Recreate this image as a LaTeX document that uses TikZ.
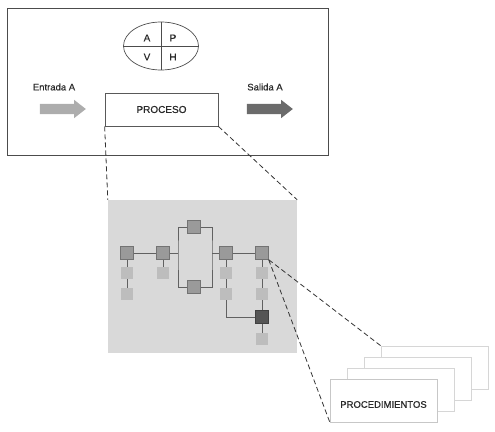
\documentclass[tikz,border=0pt]{standalone}
\usepackage{fontspec}
\setmainfont{Liberation Sans}[FakeBold=0.6]
\usepackage{xcolor}
\usetikzlibrary{shapes.geometric,shapes.arrows}
\definecolor{ink}{HTML}{2A2A2A}
\definecolor{sqmid}{HTML}{9A9A9A}
\definecolor{sqlight}{HTML}{BDBDBD}
\definecolor{sqdark}{HTML}{555555}
\definecolor{panelgray}{HTML}{D9D9D9}

\begin{document}
\begin{tikzpicture}[x=1pt, y=-1pt,
  font=\fontsize{9.5}{11}\selectfont, text=ink,
  frame/.style={draw=black!70, line width=0.7pt, inner sep=0pt},
  procbox/.style={draw=black!65, line width=0.7pt, minimum width=113pt,
                  minimum height=33pt, inner sep=0pt, font=\fontsize{10}{12}\selectfont},
  flow/.style={single arrow, fill=#1, minimum height=46pt, inner xsep=0pt, inner ysep=5pt,
               single arrow head extend=4pt, single arrow tip angle=76},
  sq/.style={draw=#1!75!black, fill=#1, minimum size=13pt, inner sep=0pt},
  sq/.default=sqmid,
  lt/.style={fill=sqlight, minimum size=12pt, inner sep=0pt},
  link/.style={draw=black!62, line width=1pt},
  zoomline/.style={draw=black!80, line width=0.8pt, dash pattern=on 5pt off 3pt},
  page/.style={draw=black!16, fill=white, minimum width=107pt, minimum height=43pt, inner sep=0pt}]
 \useasboundingbox (0,0) rectangle (495,431);
 % process level
 \node[frame, minimum width=321pt, minimum height=147pt] (sys) at (167.5,81.5) {};
 \node[draw=black!70, line width=0.7pt, ellipse, minimum width=75pt, minimum height=48pt] (pdca) at (161,46) {};
 \draw[draw=black!70, line width=0.7pt] (pdca.north) -- (pdca.south);
 \draw[draw=black!70, line width=0.7pt] (pdca.west) -- (pdca.east);
 \node[font=\fontsize{10}{12}\selectfont] (la) at (147,38) {A};
 \node[font=\fontsize{10}{12}\selectfont] (lp) at (173,38) {P};
 \node[font=\fontsize{10}{12}\selectfont] (lv) at (147,57) {V};
 \node[font=\fontsize{10}{12}\selectfont] (lh) at (173,57) {H};
 \node (intxt) at (54,87) {Entrada A};
 \node (outtxt) at (265,87) {Salida A};
 \node[flow=black!32] (inarr) at (59.5,109) {};
 \node[flow=black!58] (outarr) at (266.5,109) {};
 \node[procbox] (proc) at (161.5,109.5) {PROCESO};
 % activity map
 \node[fill=panelgray, minimum width=189pt, minimum height=153pt, inner sep=0pt] (panel) at (202.5,276.5) {};
 \node[sq] (m1) at (127,253) {};
 \node[sq] (m2) at (163,253) {};
 \node[sq] (tp) at (194,227) {};
 \node[sq] (bt) at (194,287) {};
 \node[sq] (m4) at (226,253) {};
 \node[sq] (m5) at (262,253) {};
 \node[lt] (a1) at (127,273) {};
 \node[lt] (a2) at (127,294) {};
 \node[lt] (b1) at (163,273) {};
 \node[lt] (c1) at (226,273) {};
 \node[lt] (c2) at (226,294) {};
 \node[lt] (e1) at (262,273) {};
 \node[lt] (e2) at (262,294) {};
 \node[sq=sqdark] (dk) at (262,317) {};
 \node[lt] (e3) at (262,339) {};
 \coordinate (fl) at (178,253);
 \coordinate (fr) at (212,253);
 \draw[link] (m1.east) -- (m2.west);
 \draw[link] (m2.east) -- (fl);
 \draw[link] (tp.west) -| (fl) |- (bt.west);
 \draw[link] (tp.east) -| (fr) |- (bt.east);
 \draw[link] (fr) -- (m4.west);
 \draw[link] (m4.east) -- (m5.west);
 \draw[link] (m1.south) -- (a1.north);
 \draw[link] (a1.south) -- (a2.north);
 \draw[link] (m2.south) -- (b1.north);
 \draw[link] (m4.south) -- (c1.north);
 \draw[link] (c1.south) -- (c2.north);
 \draw[link] (m5.south) -- (e1.north);
 \draw[link] (e1.south) -- (e2.north);
 \draw[link] (e2.south) -- (dk.north);
 \draw[link] (dk.south) -- (e3.north);
 \draw[link] (c2.south) |- (dk.west);
 % procedures stack
 \node[page] (p4) at (434.5,367.5) {};
 \node[page] (p3) at (417.5,378.5) {};
 \node[page] (p2) at (400.5,389.5) {};
 \node[page, draw=black!22] (p1) at (383.5,400.5) {};
 \node[font=\fontsize{9.5}{11}\selectfont] (ptxt) at ([yshift=-4pt]p1.center) {PROCEDIMIENTOS};
 % zoom lines
 \draw[zoomline] (proc.south west) -- (panel.north west);
 \draw[zoomline] (proc.south east) -- (panel.north east);
 \draw[zoomline] (m5.south east) -- (p4.north west);
 \draw[zoomline] (m5.south east) -- (p1.south west);
\end{tikzpicture}
\end{document}
